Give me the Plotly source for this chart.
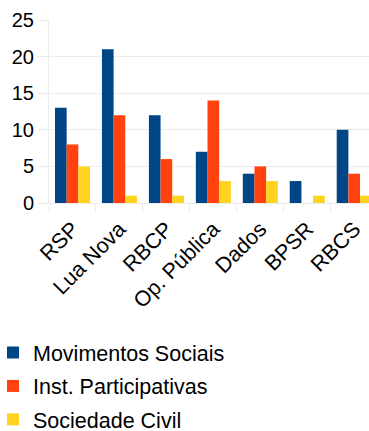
import plotly.graph_objects as go

categories = ["RSP", "Lua Nova", "RBCP", "Op. Pública", "Dados", "BPSR", "RBCS"]
movimentos = [13, 21, 12, 7, 4, 3, 10]
inst_part = [8, 12, 6, 14, 5, 0, 4]
soc_civil = [5, 1, 1, 3, 3, 1, 1]
series_names = ["Movimentos Sociais", "Inst. Participativas", "Sociedade Civil"]
colors = ["#004586", "#ff420e", "#ffd320"]
y_ticks = [0, 5, 10, 15, 20, 25]

FONT = "Liberation Sans, Arial, sans-serif"
GRID = "#ececec"

fig = go.Figure()
for i, (name, vals, col) in enumerate(zip(series_names, [movimentos, inst_part, soc_civil], colors)):
    fig.add_trace(go.Bar(x=categories, y=vals, name=name, marker_color=col,
                         marker_line_width=0, legendgroup=f"g{i}"))

fig.update_layout(
    width=369, height=431,
    margin=dict(l=49, r=0, t=20, b=228, pad=0, autoexpand=False),
    paper_bgcolor="white", plot_bgcolor="white",
    barmode="group", bargap=0.255, bargroupgap=0,
    font=dict(family=FONT, size=20, color="#000000"),
    showlegend=True,
    legend=dict(orientation="v", x=-0.175, xanchor="left", y=-0.705, yanchor="top",
                font=dict(size=21.5, family=FONT), tracegroupgap=2.5,
                traceorder="grouped", itemwidth=30),
)
fig.update_xaxes(
    type="category", range=[-0.5, 6.315], automargin=False,
    tickangle=-45, ticks="outside", tickson="boundaries", ticklen=9,
    tickcolor=GRID, tickwidth=1, showgrid=False, ticklabelstandoff=4,
    showline=True, linecolor=GRID, linewidth=1,
    tickfont=dict(size=21.5, family=FONT), zeroline=False,
)
fig.update_yaxes(
    range=[0, 25], tickvals=y_ticks, ticks="outside", ticklen=10, automargin=False,
    tickcolor=GRID, gridcolor=GRID, showgrid=True,
    showline=True, linecolor=GRID, linewidth=1, zeroline=False,
    tickfont=dict(size=20, family=FONT),
)
fig.write_html("out.html")
